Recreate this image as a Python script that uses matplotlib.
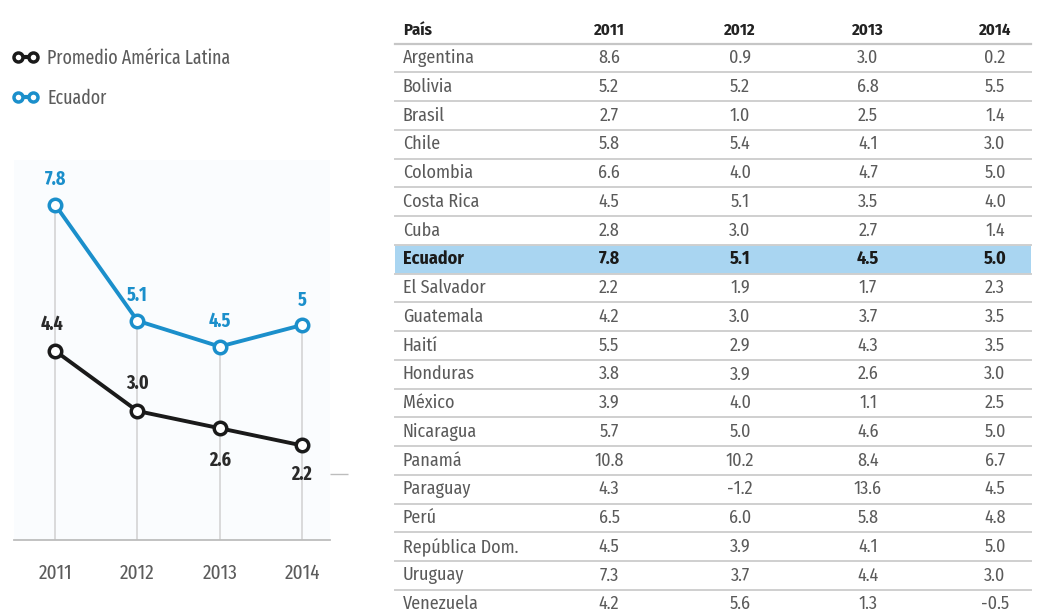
import matplotlib
matplotlib.use("Agg")
import matplotlib.pyplot as plt
from matplotlib.lines import Line2D
from matplotlib.patches import Rectangle

plt.rcParams['font.family'] = ['Fira Sans Condensed', 'Open Sans Condensed', 'Archivo Narrow', 'DejaVu Sans']
NARROW = ['Fira Sans Extra Condensed', 'Fira Sans Condensed', 'DejaVu Sans']

# datos del grafico
years = [2011, 2012, 2013, 2014]
ecuador = [7.8, 5.1, 4.5, 5.0]
ecuador_labels = ["7.8", "5.1", "4.5", "5"]
promedio = [4.4, 3.0, 2.6, 2.2]
promedio_labels = ["4.4", "3.0", "2.6", "2.2"]

# datos de la tabla
header = ["País", "2011", "2012", "2013", "2014"]
paises = ["Argentina", "Bolivia", "Brasil", "Chile", "Colombia", "Costa Rica", "Cuba",
          "Ecuador", "El Salvador", "Guatemala", "Haití", "Honduras", "México",
          "Nicaragua", "Panamá", "Paraguay", "Perú", "República Dom.", "Uruguay", "Venezuela"]
v2011 = ["8.6", "5.2", "2.7", "5.8", "6.6", "4.5", "2.8", "7.8", "2.2", "4.2", "5.5",
         "3.8", "3.9", "5.7", "10.8", "4.3", "6.5", "4.5", "7.3", "4.2"]
v2012 = ["0.9", "5.2", "1.0", "5.4", "4.0", "5.1", "3.0", "5.1", "1.9", "3.0", "2.9",
         "3.9", "4.0", "5.0", "10.2", "-1.2", "6.0", "3.9", "3.7", "5.6"]
v2013 = ["3.0", "6.8", "2.5", "4.1", "4.7", "3.5", "2.7", "4.5", "1.7", "3.7", "4.3",
         "2.6", "1.1", "4.6", "8.4", "13.6", "5.8", "4.1", "4.4", "1.3"]
v2014 = ["0.2", "5.5", "1.4", "3.0", "5.0", "4.0", "1.4", "5.0", "2.3", "3.5", "3.5",
         "3.0", "2.5", "5.0", "6.7", "4.5", "4.8", "5.0", "3.0", "-0.5"]

BLUE = "#1b8fcb"
BLACK = "#1a1a1a"
GRAY = "#5a5a5a"
W, H = 1041, 614

fig = plt.figure(figsize=(W / 100, H / 100), dpi=100)
fig.patch.set_facecolor("white")

# ---- grafico de lineas ----
ax = fig.add_axes([14 / W, (H - 540) / H, (330 - 14) / W, (540 - 160) / H])
ax.set_facecolor("#fafcfe")
ax.set_xlim(2010.5, 2014.34)
ax.set_ylim(0, 8.84)

for yr, a, b in zip(years, ecuador, promedio):
    ax.vlines(yr, 0, max(a, b), color="#d4d4d4", lw=1.2, zorder=1)

ax.plot(years, promedio, color=BLACK, lw=2.8, marker="o", ms=9, mfc="white",
        mec=BLACK, mew=2.5, zorder=3)
ax.plot(years, ecuador, color=BLUE, lw=2.8, marker="o", ms=9, mfc="white",
        mec=BLUE, mew=2.5, zorder=3)

for yr, v, t in zip(years, ecuador, ecuador_labels):
    ax.annotate(t, (yr, v), xytext=(0, 18), textcoords="offset points", ha="center",
                va="center", color=BLUE, fontsize=14, fontweight="bold", family=NARROW)
promedio_off = [19, 20, -23, -21]
for yr, v, t, off in zip(years, promedio, promedio_labels, promedio_off):
    ax.annotate(t, (yr, v), xytext=(-2 if yr == 2011 else 0, off), textcoords="offset points",
                ha="center", va="center", color="#2a2a2a", fontsize=14, fontweight="bold",
                family=NARROW)

for s in ["top", "left", "right"]:
    ax.spines[s].set_visible(False)
ax.spines["bottom"].set_color("#bdbdbd")
ax.spines["bottom"].set_linewidth(1.3)
ax.set_xticks(years)
ax.set_xticklabels([str(y) for y in years], fontsize=15, color="#5c5c5c", family=NARROW)
ax.tick_params(axis="x", length=0, pad=17)
ax.yaxis.tick_right()
ax.set_yticks([1.53])
ax.set_yticklabels([""])
ax.tick_params(axis="y", length=13, width=1, color="#bdbdbd", direction="out")

handles = [Line2D([0], [0], color=BLACK, lw=3, marker="o", ms=6.5, mfc="white", mec=BLACK, mew=2.5),
           Line2D([0], [0], color=BLUE, lw=3, marker="o", ms=6.5, mfc="white", mec=BLUE, mew=2.5)]
fig.legend(handles, ["Promedio América Latina", "Ecuador"], loc="upper left",
           bbox_to_anchor=(0.012, 0.921), borderaxespad=0, borderpad=0, frameon=False,
           numpoints=2, handlelength=1.35, handletextpad=0.45, labelspacing=1.05,
           prop={"size": 14, "family": NARROW}, labelcolor="#5c5c5c")

# ---- tabla ----
tx = fig.add_axes([0, 0, 1, 1])
tx.set_xlim(0, W)
tx.set_ylim(H, 0)
tx.axis("off")

x_left, x_right = 395, 1031
col_x = [609, 740, 868, 995]
y_head = 30
y0, dy = 58, 28.75

tx.text(403, y_head, header[0], ha="left", va="center", fontsize=12, fontweight="bold", color="#222222")
for cx, h in zip(col_x, header[1:]):
    tx.text(cx, y_head, h, ha="center", va="center", fontsize=12, fontweight="bold", color="#222222")
tx.plot([x_left, x_right], [y_head + 14, y_head + 14], color="#c6c6c6", lw=1.6)

for i, p in enumerate(paises):
    y = y0 + i * dy
    bold = p == "Ecuador"
    if bold:
        tx.add_patch(Rectangle((x_left, y - dy / 2), x_right - x_left, dy,
                               facecolor="#a9d5f1", edgecolor="none", zorder=0))
    fw = "bold" if bold else "normal"
    col = "#1a1a1a" if bold else GRAY
    tx.text(403, y, p, ha="left", va="center", fontsize=13, fontweight=fw, color=col)
    for cx, v in zip(col_x, [v2011[i], v2012[i], v2013[i], v2014[i]]):
        tx.text(cx, y, v, ha="center", va="center", fontsize=13, fontweight=fw, color=col)
    tx.plot([x_left, x_right], [y + dy / 2, y + dy / 2], color="#cfcfcf", lw=1.4)

fig.savefig("out.png", dpi=100)
